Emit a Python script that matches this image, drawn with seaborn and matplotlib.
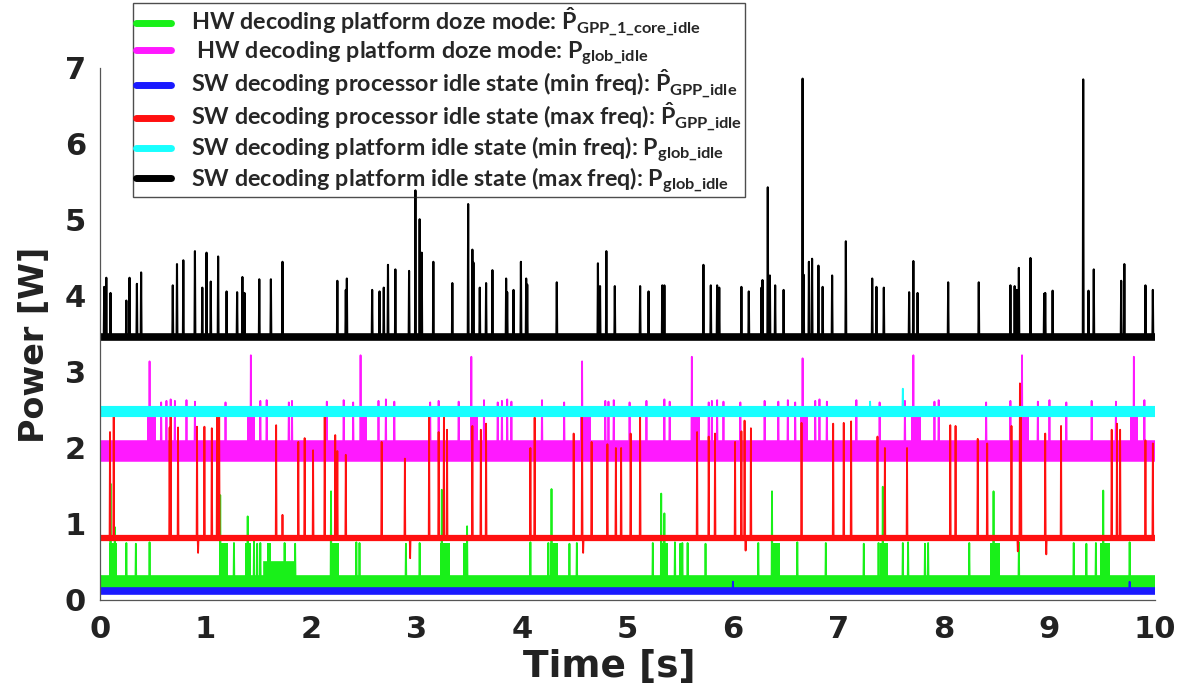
import matplotlib
matplotlib.use("Agg")
import matplotlib.pyplot as plt
import pandas as pd
import seaborn as sns
from matplotlib.lines import Line2D

# ---------------- data ----------------
T_END = 10.0

# black: SW platform idle (max freq)
black_base = 3.46
black_t = [0.04, 0.06, 0.10, 0.25, 0.28, 0.35, 0.39, 0.69, 0.73, 0.79, 0.90, 0.97, 1.01, 1.05, 1.12,
           1.20, 1.30, 1.35, 1.37, 1.51, 1.62, 1.73, 2.25, 2.33, 2.34, 2.58, 2.65, 2.69, 2.73, 2.80,
           2.93, 2.99, 3.03, 3.05, 3.16,
           3.34, 3.49, 3.53, 3.54, 3.60, 3.66, 3.72, 3.85, 3.86, 3.92, 3.99, 4.04, 4.05, 4.33, 4.72,
           4.74, 4.80, 4.88, 5.12, 5.20, 5.33, 5.35, 5.72, 5.79, 5.85, 5.87, 6.08, 6.15, 6.27, 6.28,
           6.33, 6.35, 6.40, 6.48,
           6.66, 6.67, 6.72, 6.75, 6.81, 6.85, 6.94, 7.07, 7.32, 7.36, 7.43, 7.67, 7.71, 7.75, 8.04,
           8.33, 8.63, 8.67, 8.69, 8.71, 8.82, 8.95, 8.96, 9.03, 9.32, 9.37, 9.42, 9.68, 9.71, 9.91, 9.98]
black_v = [4.12, 4.24, 4.04, 3.94, 4.24, 4.16, 4.31, 4.14, 4.42, 4.47, 4.59, 4.11, 4.57, 4.19, 4.52,
           4.06, 4.05, 4.25, 4.04, 4.22, 4.22, 4.45, 4.20, 4.08, 4.23, 4.08, 4.06, 4.11, 4.41, 4.35,
           4.33, 5.39, 5.01, 4.57, 4.45,
           4.17, 5.21, 4.61, 4.44, 4.11, 4.17, 4.34, 4.23, 4.05, 4.08, 4.45, 4.23, 4.15, 4.18, 4.43,
           4.13, 4.59, 4.13, 4.13, 4.06, 4.14, 4.14, 4.41, 4.14, 4.14, 4.11, 4.12, 4.06, 4.11, 4.21,
           5.43, 4.27, 4.14, 4.08,
           6.86, 4.28, 4.45, 4.49, 4.40, 4.12, 4.27, 4.72, 4.23, 4.12, 4.11, 4.05, 4.46, 4.04, 4.18,
           4.18, 4.14, 4.13, 4.08, 4.37, 4.50, 4.03, 4.04, 4.07, 6.85, 4.07, 4.35, 4.20, 4.42, 4.14, 4.08]

# red: SW processor idle (max freq)
red_base = 0.81
red_t = [0.095, 0.13, 0.66, 0.67, 0.74, 0.92, 0.99, 1.06, 1.11, 1.13, 1.67, 1.73, 1.88, 1.94, 2.02,
         2.13, 2.23, 2.25, 2.33, 2.67, 2.89, 3.12, 3.21, 3.26,
         3.29, 3.53, 3.61, 3.66, 4.08, 4.12, 4.49, 4.57, 4.66, 4.81, 4.89, 4.94, 5.03, 5.12, 5.66,
         5.77, 5.83, 6.02, 6.08, 6.11, 6.17,
         6.65, 6.95, 7.05, 7.12, 7.37, 7.44, 7.65, 8.06, 8.11, 8.32, 8.41, 8.64, 8.72, 8.73, 8.96,
         9.11, 9.59, 9.64, 9.67, 9.91, 9.98,
         0.93, 2.94, 4.58, 6.12, 8.70, 8.97]
red_v = [2.21, 2.41, 2.27, 2.41, 2.27, 2.28, 2.28, 2.26, 2.41, 2.41, 2.30, 1.12, 2.08, 2.13, 1.97,
         2.41, 2.17, 1.96, 1.91, 2.08, 1.86, 2.41, 2.21, 2.41,
         2.24, 2.29, 2.24, 2.32, 2.00, 2.40, 2.19, 2.41, 2.08, 2.05, 2.00, 2.00, 2.19, 2.42, 2.21,
         2.15, 2.19, 2.08, 2.22, 2.36, 2.26,
         2.33, 2.32, 2.33, 2.35, 2.15, 2.00, 2.00, 2.30, 2.29, 2.12, 2.06, 2.29, 2.85, 2.45, 2.19,
         2.29, 2.24, 2.32, 2.24, 2.10, 2.06,
         0.62, 0.55, 0.62, 0.65, 0.64, 0.60]

# magenta: HW platform doze (P_glob_idle)
mag_base = 1.96
mag_t = [0.47, 1.43, 2.47, 3.52, 4.57, 5.61, 6.66, 7.71, 8.74, 9.80,
         0.58, 0.63, 0.67, 0.71, 0.82, 0.90, 1.19, 1.52, 1.58, 1.79, 1.82, 2.15, 2.31, 2.40, 2.64,
         2.71, 2.79, 3.13, 3.21, 3.40, 3.64, 3.77, 3.81, 3.86, 3.90, 4.19, 4.40, 4.79, 4.82, 4.87,
         5.02, 5.18, 5.35, 5.40, 5.77, 5.80, 5.85, 5.91, 6.07, 6.30, 6.43, 6.52, 6.59, 6.78, 6.82,
         6.89, 7.17, 7.39, 7.63, 7.91, 7.95, 8.40, 8.63, 8.89, 9.00, 9.16, 9.40, 9.63, 9.90]
mag_v = [3.14, 3.22, 3.22, 3.20, 3.14, 3.20, 3.18, 3.22, 3.22, 3.20,
         2.60, 2.62, 2.64, 2.62, 2.63, 2.61, 2.60, 2.62, 2.63, 2.60, 2.62, 2.61, 2.63, 2.60, 2.62,
         2.64, 2.61, 2.60, 2.62, 2.61, 2.63, 2.60, 2.62, 2.64, 2.61, 2.63, 2.60, 2.62, 2.61, 2.63,
         2.60, 2.62, 2.64, 2.61, 2.60, 2.62, 2.63, 2.61, 2.60, 2.62, 2.61, 2.63, 2.60, 2.62, 2.64,
         2.61, 2.63, 2.60, 2.62, 2.61, 2.63, 2.60, 2.62, 2.61, 2.63, 2.60, 2.62, 2.61, 2.63]
mag_block_start = [0.45, 1.39, 2.46, 3.51, 4.55, 5.61, 6.64, 7.69, 8.74, 9.76]
mag_block_end = [0.53, 1.47, 2.53, 3.58, 4.65, 5.69, 6.71, 7.78, 8.81, 9.84]
mag_block_top = 2.50

# cyan: SW platform idle (min freq)
cyan_base = 2.49
cyan_t = [7.30, 7.61]
cyan_v = [2.61, 2.78]

# green: HW platform doze (P_GPP_1_core_idle)
green_base = 0.22
green_band_t = [0.0, 1.62, 1.62, 1.77, 1.77, 10.0]
green_band_v = [0.22, 0.22, 0.41, 0.41, 0.22, 0.22]
green_t = [0.10, 0.14, 1.14, 1.40, 2.19, 3.24, 3.48, 4.28, 5.32, 5.35, 6.37, 7.42, 8.47, 9.51,
           0.25, 0.34, 0.47, 1.27, 1.46, 1.49, 1.52, 1.75, 1.85, 2.43, 2.46, 2.90, 3.03, 4.08, 4.25,
           4.45, 4.52, 5.24, 5.45, 5.50, 5.52, 5.57, 5.74, 6.24, 6.61, 6.88, 7.24, 7.38, 7.61, 7.66,
           7.82, 7.85, 8.24, 8.71, 9.23, 9.35, 9.44, 9.76]
green_v = [1.53, 0.96, 1.38, 1.10, 1.43, 1.45, 0.97, 1.46, 1.40, 1.14, 1.43, 1.49, 1.43, 1.44,
           0.75, 0.74, 0.76, 0.75, 0.78, 0.74, 0.75, 0.75, 0.74, 0.76, 0.75, 0.74, 0.75, 0.76, 0.75,
           0.74, 0.75, 0.75, 0.76, 0.74, 0.75, 0.75, 0.74, 0.75, 0.76, 0.75, 0.74, 0.75, 0.75, 0.76,
           0.74, 0.75, 0.75, 0.76, 0.75, 0.74, 0.75, 0.76]
green_block_start = [0.09, 1.14, 1.37, 1.58, 2.19, 3.22, 3.44, 4.27, 5.31, 6.37, 7.39, 8.44, 9.48]
green_block_end = [0.16, 1.21, 1.43, 1.62, 2.27, 3.32, 3.48, 4.34, 5.38, 6.45, 7.47, 8.53, 9.57]
green_block_top = 0.75

# blue: SW processor idle (min freq)
blue_base = 0.12
blue_t = [6.00, 9.76]
blue_v = [0.24, 0.24]

labels = [
    r"HW decoding platform doze mode: $\hat{P}_{GPP\_1\_core\_idle}$",
    r" HW decoding platform doze mode: $P_{glob\_idle}$",
    r"SW decoding processor idle state (min freq): $\hat{P}_{GPP\_idle}$",
    r"SW decoding processor idle state (max freq): $\hat{P}_{GPP\_idle}$",
    r"SW decoding platform idle state (min freq): $P_{glob\_idle}$",
    r"SW decoding platform idle state (max freq): $P_{glob\_idle}$",
]
colors = ["#19f019", "#ff19ff", "#1a1aff", "#ff1010", "#19ffff", "#000000"]

# ---------------- style ----------------
sns.set_style("white")
plt.rcParams["font.family"] = ["DejaVu Sans"]
plt.rcParams["mathtext.fontset"] = "custom"
plt.rcParams["mathtext.rm"] = "Lato:bold"
plt.rcParams["mathtext.it"] = "Lato:bold"
plt.rcParams["mathtext.bf"] = "Lato:bold"


def spike_frame(base, times, values, w=0.004):
    pts = [(0.0, base)]
    for t, v in sorted(zip(times, values)):
        pts += [(t - w, base), (t, v), (t + w, base)]
    pts.append((T_END, base))
    return pd.DataFrame(pts, columns=["t", "p"])


fig = plt.figure(figsize=(11.79, 6.86), dpi=100)
ax = fig.add_axes([0.0848, 0.1254, 0.8948, 0.7755])


def band(tv, pv, color, lw):
    sns.lineplot(x=tv, y=pv, color=color, lw=lw, estimator=None, sort=False,
                 ax=ax, legend=False, solid_capstyle="butt", solid_joinstyle="miter")


def spikes(base, tv, pv, color, lw=1.3):
    df = spike_frame(base, tv, pv)
    sns.lineplot(data=df, x="t", y="p", color=color, lw=lw, estimator=None,
                 sort=False, ax=ax, legend=False)


def blocks(starts, ends, low, top, color):
    for s, e in zip(starts, ends):
        ax.fill_between([s, e], [low, low], [top, top], color=color, lw=0)


# green
blocks(green_block_start, green_block_end, green_base, green_block_top, colors[0])
band(green_band_t, green_band_v, colors[0], 12)
spikes(green_base, green_t, green_v, colors[0])
# magenta
blocks(mag_block_start, mag_block_end, mag_base, mag_block_top, colors[1])
band([0, T_END], [mag_base, mag_base], colors[1], 15.5)
spikes(mag_base, mag_t, mag_v, colors[1])
# blue
band([0, T_END], [blue_base, blue_base], colors[2], 5.5)
spikes(blue_base, blue_t, blue_v, colors[2])
# red
band([0, T_END], [red_base, red_base], colors[3], 4.5)
spikes(red_base, red_t, red_v, colors[3])
# cyan
band([0, T_END], [cyan_base, cyan_base], colors[4], 8)
spikes(cyan_base, cyan_t, cyan_v, colors[4])
# black
band([0, T_END], [black_base, black_base], colors[5], 5.5)
spikes(black_base, black_t, black_v, colors[5], lw=1.5)

ax.set_xlim(0, 10)
ax.set_ylim(0, 7)
ax.set_xticks(range(0, 11))
ax.set_yticks(range(0, 8))
for side in ["top", "right"]:
    ax.spines[side].set_visible(False)
for side in ["left", "bottom"]:
    ax.spines[side].set_color("#555555")
    ax.spines[side].set_linewidth(0.9)
ax.tick_params(axis="both", direction="in", length=7, width=0.9, color="#555555",
               labelsize=22)
ax.tick_params(axis="y", pad=10)
ax.tick_params(axis="x", pad=11)
for lab in ax.get_xticklabels() + ax.get_yticklabels():
    lab.set_fontweight("bold")
    lab.set_color("#222222")

ax.set_xlabel("Time [s]", fontsize=27, fontweight="bold", color="#222222")
ax.set_ylabel("Power [W]", fontsize=24, fontweight="bold", color="#222222")
ax.xaxis.set_label_coords(0.483, -0.092)
ax.yaxis.set_label_coords(-0.046, 0.479)

handles = [Line2D([0], [0], color=c, lw=5) for c in colors]
leg = fig.legend(handles, labels, loc="upper left", bbox_to_anchor=(133 / 1179, 1 - 3 / 686),
                 prop={"family": "Lato", "weight": "bold", "size": 16.8},
                 frameon=True, fancybox=False, borderaxespad=0, borderpad=0.12,
                 handlelength=1.5, handletextpad=0.85, labelspacing=0.02)
leg.get_frame().set_edgecolor("#222222")
leg.get_frame().set_linewidth(1.0)
leg.get_frame().set_facecolor("none")

fig.savefig("out.png", dpi=100)
